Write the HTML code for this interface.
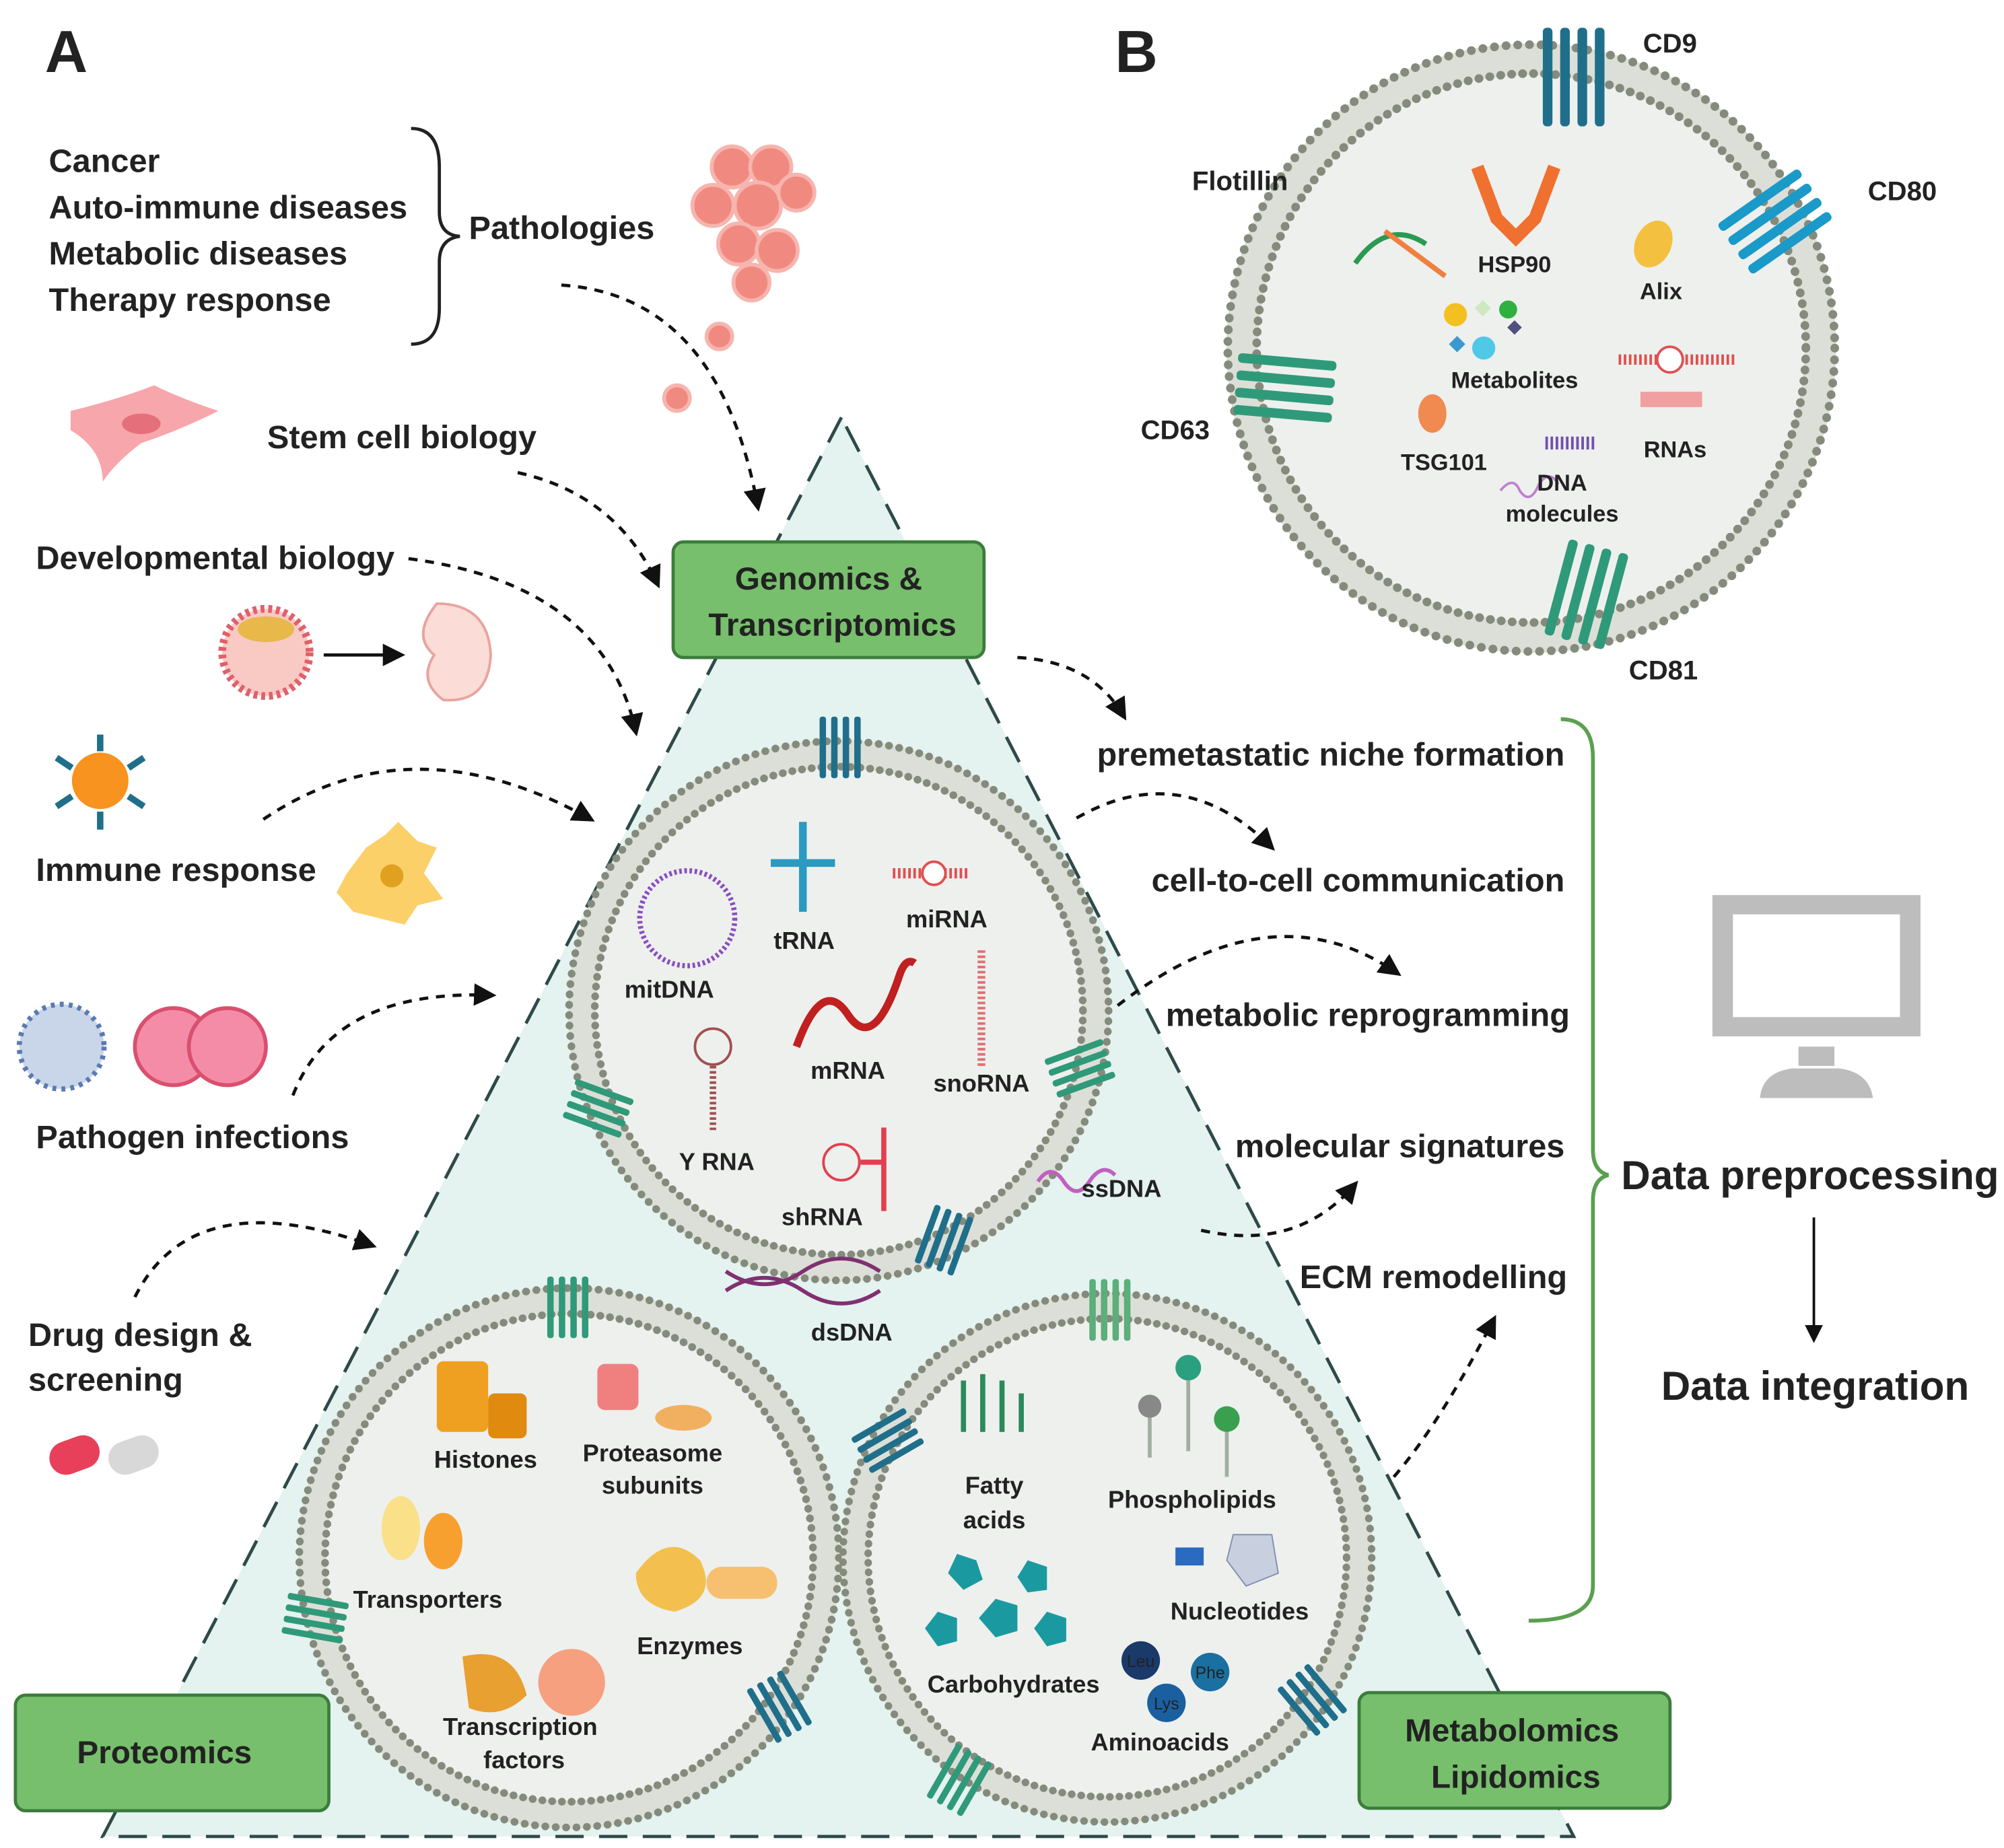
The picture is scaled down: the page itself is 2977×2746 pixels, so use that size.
<!DOCTYPE html>
<html><head><meta charset="utf-8"><style>
html,body{margin:0;padding:0;background:#fff}
svg{display:block}
text{font-family:"Liberation Sans",sans-serif;fill:#222}
.b{font-weight:bold}
</style></head><body>
<svg width="2977" height="2746" viewBox="0 0 1560 1439" preserveAspectRatio="none" xmlns="http://www.w3.org/2000/svg">
<defs>
<marker id="ah" viewBox="0 0 10 10" refX="8" refY="5" markerWidth="7" markerHeight="7" orient="auto"><path d="M0,0L10,5L0,10z" fill="#111"/></marker>
<g id="mem">
<circle r="200" fill="#eef0ee" stroke="none"/>
<circle r="200" fill="none" stroke="#dcdfd8" stroke-width="22"/>
<circle r="210" fill="none" stroke="#858b7c" stroke-width="6" stroke-dasharray="0.1 8" stroke-linecap="round"/>
<circle r="190" fill="none" stroke="#858b7c" stroke-width="6" stroke-dasharray="0.1 7.5" stroke-linecap="round"/>
</g>
<g id="rec">
<rect x="-14" y="-24" width="5" height="48" rx="2"/><rect x="-5" y="-24" width="5" height="48" rx="2"/><rect x="4" y="-24" width="5" height="48" rx="2"/><rect x="13" y="-24" width="5" height="48" rx="2"/>
</g>
</defs>

<polygon points="655,325 80,1430 1225,1430" fill="#e4f2f0" stroke="#2d4a48" stroke-width="2.5" stroke-dasharray="22 12"/>

<text x="35" y="56" font-size="46" class="b" fill="#111">A</text>
<text x="868" y="56" font-size="46" class="b" fill="#111">B</text>

<g font-size="25.5" class="b" fill="#333">
<text x="38" y="134">Cancer</text>
<text x="38" y="170">Auto-immune diseases</text>
<text x="38" y="206">Metabolic diseases</text>
<text x="38" y="242">Therapy response</text>
<text x="365" y="186">Pathologies</text>
<text x="208" y="349">Stem cell biology</text>
<text x="28" y="443">Developmental biology</text>
<text x="28" y="686">Immune response</text>
<text x="28" y="894">Pathogen infections</text>
<text x="22" y="1048">Drug design &amp;</text>
<text x="22" y="1083">screening</text>
</g>
<path d="M320,100 Q342,100 342,130 L342,165 Q342,183 358,184 Q342,186 342,204 L342,240 Q342,268 320,268" fill="none" stroke="#222" stroke-width="2.5"/>

<g fill="#f08a80" stroke="#f6b5ae" stroke-width="3">
<circle cx="570" cy="130" r="16"/><circle cx="600" cy="130" r="16"/><circle cx="555" cy="160" r="16"/><circle cx="590" cy="160" r="18"/><circle cx="620" cy="150" r="14"/><circle cx="575" cy="190" r="16"/><circle cx="605" cy="195" r="16"/><circle cx="585" cy="220" r="14"/><circle cx="560" cy="262" r="10"/><circle cx="527" cy="310" r="10"/>
</g>
<path d="M55,320 Q95,310 120,300 Q140,310 170,320 Q140,335 110,345 Q90,360 80,375 Q80,350 55,335z" fill="#f7a6ab"/>
<ellipse cx="110" cy="330" rx="15" ry="8" fill="#e5707b"/>
<circle cx="207" cy="508" r="34" fill="#f9c9c4" stroke="#e0606a" stroke-width="6" stroke-dasharray="3 3"/>
<ellipse cx="207" cy="490" rx="22" ry="10" fill="#e8b84a"/>
<line x1="252" y1="510" x2="312" y2="510" stroke="#111" stroke-width="2.5" marker-end="url(#ah)"/>
<path d="M340,470 Q380,470 382,510 Q380,548 345,545 Q325,530 338,510 Q320,495 340,470z" fill="#fbdcd6" stroke="#e8a49e" stroke-width="2"/>
<circle cx="78" cy="608" r="22" fill="#f7931e"/>
<g stroke="#1f6f8b" stroke-width="5"><line x1="78" y1="572" x2="78" y2="585"/><line x1="78" y1="632" x2="78" y2="646"/><line x1="44" y1="590" x2="56" y2="598"/><line x1="112" y1="590" x2="100" y2="598"/><line x1="44" y1="628" x2="56" y2="620"/><line x1="112" y1="628" x2="100" y2="620"/></g>
<path d="M270,680 L285,660 L300,650 L310,640 L325,655 L340,660 L330,680 L345,700 L325,705 L315,720 L295,715 L275,710 L262,695z" fill="#fbd068"/>
<circle cx="305" cy="682" r="9" fill="#e0a020"/>
<circle cx="48" cy="815" r="33" fill="#c9d5e8" stroke="#5a7ab0" stroke-width="4" stroke-dasharray="3 4"/>
<circle cx="135" cy="815" r="30" fill="#f48ca8" stroke="#d9506f" stroke-width="3"/>
<circle cx="177" cy="815" r="30" fill="#f48ca8" stroke="#d9506f" stroke-width="3"/>
<rect x="38" y="1120" width="40" height="26" rx="13" fill="#e8405a" transform="rotate(-20 58 1133)"/>
<rect x="84" y="1120" width="40" height="26" rx="13" fill="#d8d8d8" transform="rotate(-20 104 1133)"/>

<g fill="none" stroke="#111" stroke-width="2.5" stroke-dasharray="7 6" marker-end="url(#ah)">
<path d="M437,222 Q560,230 590,395"/>
<path d="M403,368 Q480,385 512,455"/>
<path d="M318,435 Q470,455 495,570"/>
<path d="M205,638 Q320,560 460,638"/>
<path d="M228,853 Q260,770 383,775"/>
<path d="M105,1010 Q150,920 290,970"/>
<path d="M792,512 Q850,515 875,558"/>
<path d="M838,637 Q920,590 990,660"/>
<path d="M870,783 Q990,690 1088,758"/>
<path d="M935,958 Q1010,975 1055,922"/>
<path d="M1085,1150 Q1120,1110 1163,1027"/>
</g>

<g fill="#77bf6c" stroke="#3b7d3b" stroke-width="2.5">
<rect x="524" y="422" width="242" height="90" rx="8"/>
<rect x="12" y="1320" width="244" height="90" rx="8"/>
<rect x="1058" y="1318" width="242" height="90" rx="8"/>
</g>
<g font-size="25" class="b" fill="#1e2e1e" text-anchor="middle">
<text x="645" y="459">Genomics &amp;</text>
<text x="648" y="495">Transcriptomics</text>
<text x="128" y="1373">Proteomics</text>
<text x="1177" y="1356">Metabolomics</text>
<text x="1180" y="1392">Lipidomics</text>
</g>

<use href="#mem" transform="translate(653,787)"/>
<use href="#mem" transform="translate(443,1213)"/>
<use href="#mem" transform="translate(862,1213) scale(0.98)"/>
<g fill="#1f6f8b"><use href="#rec" transform="translate(652,582)"/><use href="#rec" transform="translate(733,965) rotate(20)"/><use href="#rec" transform="translate(605,1330) rotate(-30)"/><use href="#rec" transform="translate(1020,1325) rotate(-40)"/><use href="#rec" transform="translate(690,1120) rotate(60)"/></g>
<g fill="#2f9a7a"><use href="#rec" transform="translate(840,830) rotate(70)"/><use href="#rec" transform="translate(465,865) rotate(-70)"/><use href="#rec" transform="translate(440,1018)"/><use href="#rec" transform="translate(245,1262) rotate(-80)"/><use href="#rec" transform="translate(745,1385) rotate(30)"/></g>
<g fill="#5cae7a"><use href="#rec" transform="translate(862,1020)"/></g>

<circle cx="535" cy="715" r="37" fill="none" stroke="#8a4fc0" stroke-width="4" stroke-dasharray="2 2"/>
<path d="M625,640 v70 M600,672 h50" stroke="#2a9ac0" stroke-width="6" fill="none"/>
<path d="M695,680 h60" stroke="#e05050" stroke-width="8" stroke-dasharray="2 2"/><circle cx="727" cy="680" r="9" fill="#fff" stroke="#e05050" stroke-width="2"/>
<path d="M620,815 Q640,760 660,790 Q680,820 700,760 Q705,745 712,750" fill="none" stroke="#c02020" stroke-width="6"/>
<path d="M764,740 v90" stroke="#e07070" stroke-width="6" stroke-dasharray="2 2"/>
<circle cx="555" cy="815" r="14" fill="none" stroke="#a05050" stroke-width="2"/><path d="M555,830 v50" stroke="#a05050" stroke-width="5" stroke-dasharray="2 2"/>
<circle cx="655" cy="905" r="14" fill="none" stroke="#e04050" stroke-width="2"/><path d="M670,905 h18 M688,878 v65" stroke="#e04050" stroke-width="4"/>
<path d="M808,920 q10,-15 20,0 q10,15 20,0 q10,-15 20,-5" fill="none" stroke="#c060c0" stroke-width="3"/>
<path d="M565,990 q30,20 60,0 q30,-20 60,0 M565,1005 q30,-20 60,0 q30,20 60,0" fill="none" stroke="#803070" stroke-width="3"/>
<g font-size="19" class="b" fill="#2a2a2a" text-anchor="middle">
<text x="626" y="739">tRNA</text><text x="737" y="722">miRNA</text><text x="521" y="777">mitDNA</text>
<text x="660" y="840">mRNA</text><text x="764" y="850">snoRNA</text><text x="558" y="911">Y RNA</text>
<text x="640" y="954">shRNA</text><text x="873" y="932">ssDNA</text><text x="663" y="1044">dsDNA</text>
</g>
<rect x="340" y="1060" width="40" height="55" rx="5" fill="#f0a020"/><rect x="380" y="1085" width="30" height="35" rx="5" fill="#e08a10"/>
<rect x="465" y="1062" width="32" height="36" rx="6" fill="#f08080"/>
<ellipse cx="532" cy="1104" rx="22" ry="10" fill="#f0b060"/>
<ellipse cx="312" cy="1190" rx="15" ry="25" fill="#fbe08a"/><ellipse cx="345" cy="1200" rx="15" ry="22" fill="#f7a030"/>
<path d="M495,1225 Q520,1190 545,1215 Q560,1245 525,1255 Q495,1250 495,1225z" fill="#f3c050"/><rect x="550" y="1220" width="55" height="25" rx="12" fill="#f7c070"/>
<path d="M360,1290 Q400,1280 410,1320 Q390,1340 365,1330z" fill="#e8a030"/><circle cx="445" cy="1310" r="26" fill="#f7a080"/>
<g font-size="19" class="b" fill="#2a2a2a" text-anchor="middle">
<text x="378" y="1143">Histones</text><text x="508" y="1138">Proteasome</text><text x="508" y="1163">subunits</text>
<text x="333" y="1252">Transporters</text><text x="537" y="1288">Enzymes</text>
<text x="405" y="1351">Transcription</text><text x="408" y="1377">factors</text>
</g>
<path d="M750,1115 v-40 M765,1115 v-45 M780,1115 v-40 M795,1115 v-30" stroke="#2a8a5a" stroke-width="4"/>
<path d="M895,1135 v-40 M925,1130 v-55 M955,1150 v-45" stroke="#a0b0a0" stroke-width="3"/>
<circle cx="895" cy="1095" r="9" fill="#888"/><circle cx="925" cy="1065" r="10" fill="#2aa080"/><circle cx="955" cy="1105" r="10" fill="#3aa050"/>
<g fill="#1a9aa0"><polygon points="745,1210 760,1215 765,1230 750,1238 738,1225"/><polygon points="800,1215 815,1220 815,1238 800,1240 792,1228"/><polygon points="775,1245 792,1250 792,1270 775,1275 762,1260"/><polygon points="730,1255 745,1260 745,1278 730,1282 720,1268"/><polygon points="815,1255 830,1260 830,1278 815,1282 805,1268"/></g>
<circle cx="888" cy="1293" r="15" fill="#1a3a6a"/><circle cx="942" cy="1302" r="15" fill="#1a70a0"/><circle cx="908" cy="1326" r="15" fill="#1a60a0"/>
<g font-size="13" text-anchor="middle"><text x="888" y="1298" fill="#fff">Leu</text><text x="942" y="1307" fill="#fff">Phe</text><text x="908" y="1331" fill="#fff">Lys</text></g>
<rect x="915" y="1205" width="22" height="14" fill="#2a6ac0"/><polygon points="960,1195 990,1195 995,1225 970,1235 955,1215" fill="#c8d0e0" stroke="#8090b0"/>
<g font-size="19" class="b" fill="#2a2a2a" text-anchor="middle">
<text x="774" y="1163">Fatty</text><text x="774" y="1190">acids</text><text x="928" y="1174">Phospholipids</text>
<text x="965" y="1261">Nucleotides</text><text x="789" y="1318">Carbohydrates</text><text x="903" y="1363">Aminoacids</text>
</g>

<g font-size="25.5" class="b" fill="#333" text-anchor="end">
<text x="1218" y="596">premetastatic niche formation</text>
<text x="1218" y="694">cell-to-cell communication</text>
<text x="1222" y="799">metabolic reprogramming</text>
<text x="1218" y="901">molecular signatures</text>
<text x="1220" y="1003">ECM remodelling</text>
</g>
<path d="M1215,560 Q1240,560 1240,590 L1240,895 Q1240,912 1252,915 Q1240,918 1240,935 L1240,1235 Q1240,1262 1190,1262" fill="none" stroke="#5aa050" stroke-width="3"/>
<text x="1262" y="926" font-size="31.5" class="b" fill="#222">Data preprocessing</text>
<line x1="1412" y1="948" x2="1412" y2="1043" stroke="#111" stroke-width="2" marker-end="url(#ah)"/>
<text x="1413" y="1090" font-size="31.5" class="b" fill="#222" text-anchor="middle">Data integration</text>
<rect x="1333" y="697" width="162" height="110" fill="#bdbdbd"/><rect x="1349" y="712" width="130" height="80" fill="#fff"/>
<rect x="1400" y="815" width="28" height="15" fill="#bdbdbd"/><path d="M1370,855 Q1372,835 1395,832 L1432,832 Q1455,835 1458,855z" fill="#bdbdbd"/>

<g transform="translate(1192,271) scale(1.125)"><use href="#mem"/></g>
<g fill="#1f6f8b"><use href="#rec" transform="translate(1222,60) scale(1.5,1.6)"/></g>
<g fill="#1a9ac8"><use href="#rec" transform="translate(1380,170) rotate(55) scale(1.5,1.6)"/></g>
<g fill="#2f9a7a"><use href="#rec" transform="translate(1000,305) rotate(-85) scale(1.5,1.6)"/><use href="#rec" transform="translate(1232,462) rotate(15) scale(1.5,1.6)"/></g>
<path d="M1055,205 Q1080,170 1110,190" stroke="#2a9a50" stroke-width="4" fill="none"/><path d="M1078,180 L1125,215" stroke="#f08040" stroke-width="4"/>
<path d="M1150,130 L1165,170 L1180,185 L1195,170 L1210,130" stroke="#f07030" stroke-width="10" fill="none"/>
<ellipse cx="1287" cy="190" rx="14" ry="19" fill="#f3c040" transform="rotate(25 1287 190)"/>
<circle cx="1133" cy="245" r="9" fill="#f3c020"/><rect x="1150" y="236" width="9" height="9" fill="#cfe8c0" transform="rotate(45 1155 240)"/><circle cx="1174" cy="241" r="7" fill="#30b040"/>
<rect x="1130" y="264" width="9" height="9" fill="#3a9ad0" transform="rotate(45 1135 268)"/><circle cx="1155" cy="271" r="9" fill="#50c8e8"/><rect x="1175" y="251" width="8" height="8" fill="#505080" transform="rotate(45 1179 255)"/>
<path d="M1260,280 h92" stroke="#e05050" stroke-width="8" stroke-dasharray="2 2"/><circle cx="1300" cy="280" r="10" fill="#fff" stroke="#e05050" stroke-width="2"/>
<rect x="1277" y="305" width="48" height="12" fill="#f0a0a0"/>
<ellipse cx="1115" cy="322" rx="11" ry="15" fill="#f08a50"/>
<path d="M1203,345 h38" stroke="#7050b0" stroke-width="10" stroke-dasharray="2 2"/>
<path d="M1168,382 q10,-12 15,0 q8,12 15,-5 q8,-12 15,0" fill="none" stroke="#c080d0" stroke-width="2"/>
<g font-size="18" class="b" fill="#2a2a2a" text-anchor="middle">
<text x="1179" y="212">HSP90</text><text x="1293" y="233">Alix</text><text x="1179" y="302">Metabolites</text>
<text x="1124" y="366">TSG101</text><text x="1304" y="356">RNAs</text><text x="1216" y="382">DNA</text><text x="1216" y="406">molecules</text>
</g>
<g font-size="21" class="b" fill="#222">
<text x="1279" y="41">CD9</text><text x="928" y="148">Flotillin</text><text x="1454" y="156">CD80</text><text x="888" y="342">CD63</text><text x="1268" y="529">CD81</text>
</g>
</svg>
</body></html>
